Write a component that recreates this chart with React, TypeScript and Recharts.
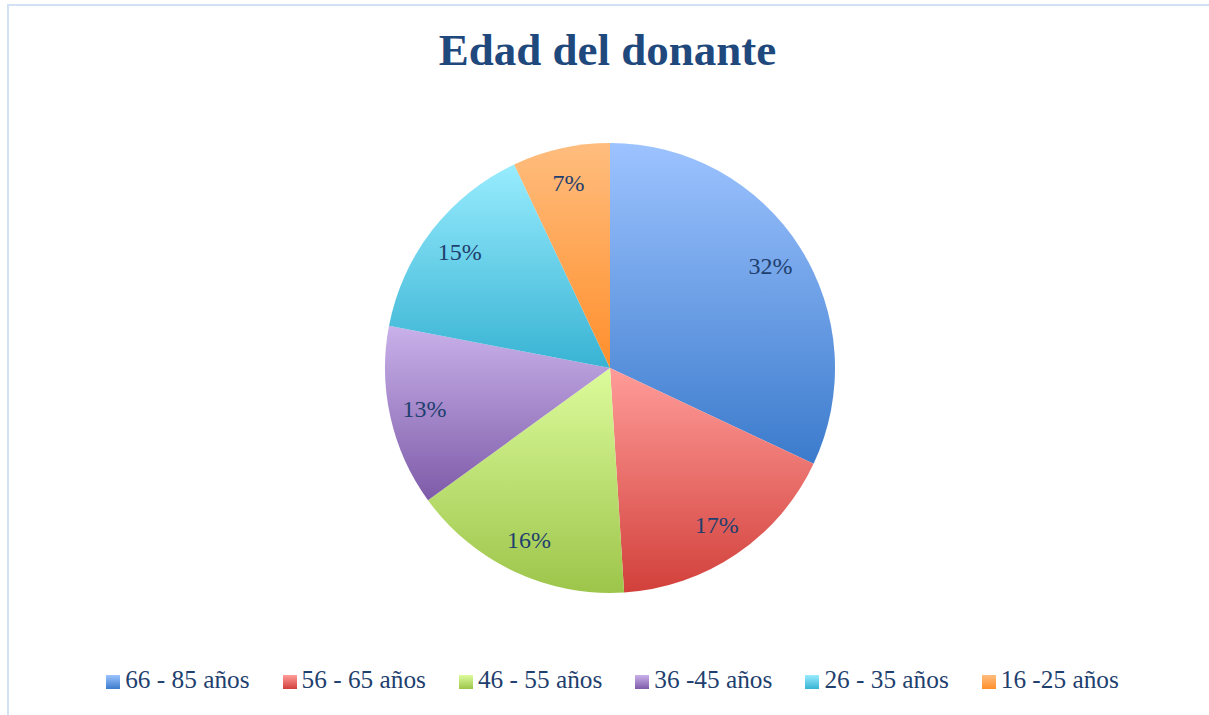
import React from "react";
import { PieChart, Pie, Cell, Legend } from "recharts";

const categories = ["66 - 85 años", "56 - 65 años", "46 - 55 años", "36 -45 años", "26 - 35 años", "16 -25 años"];
const values = [32, 17, 16, 13, 15, 7];
const labels = ["32%", "17%", "16%", "13%", "15%", "7%"];
const gradTop = ["#9dc3ff", "#ff9c99", "#dcfb9c", "#c9b1ea", "#98ecfe", "#ffbd7e"];
const gradBottom = ["#3b7bcc", "#d2403b", "#9dc54a", "#7e5ba8", "#38b3d3", "#ff8f2c"];

const data = categories.map((name, i) => ({ name, value: values[i], label: labels[i] }));

const RADIAN = Math.PI / 180;
const FONT = "'Liberation Serif', 'DejaVu Serif', serif";
const NAVY = "#1f3f6e";

const renderLabel = (props: any) => {
  const { cx, cy, midAngle, index } = props;
  const r = 190;
  const x = cx + r * Math.cos(-midAngle * RADIAN);
  const y = cy + r * Math.sin(-midAngle * RADIAN);
  return (
    <text x={x} y={y} fill={NAVY} fontFamily={FONT} fontSize={24} textAnchor="middle" dominantBaseline="central">
      {labels[index]}
    </text>
  );
};

const renderLegend = () => (
  <div style={{ display: "flex", justifyContent: "center", gap: 33, fontFamily: FONT, fontSize: 25.3, lineHeight: "25px", color: NAVY }}>
    {categories.map((c, i) => (
      <div key={c} style={{ display: "flex", alignItems: "center" }}>
        <span
          style={{
            display: "inline-block",
            width: 14,
            height: 14,
            marginRight: 5,
            marginTop: 4,
            background: `linear-gradient(${gradTop[i]}, ${gradBottom[i]})`,
          }}
        />
        <span>{c}</span>
      </div>
    ))}
  </div>
);

export default function App() {
  return (
    <div style={{ position: "absolute", left: 0, top: 0, width: 1209, height: 715, overflow: "hidden", background: "#fff" }}>
      <div style={{ position: "absolute", left: 7, top: 4, width: 1230, height: 760, border: "2px solid #d2e1f3", boxSizing: "border-box" }} />
      <div
        style={{
          position: "absolute",
          left: 3,
          width: 1209,
          top: 28,
          textAlign: "center",
          fontFamily: FONT,
          fontWeight: "bold",
          fontSize: 45,
          lineHeight: "45px",
          color: "#1f497d",
        }}
      >
        Edad del donante
      </div>
      <div style={{ position: "absolute", left: 0, top: 0 }}>
        <PieChart width={1209} height={715} margin={{ top: 0, right: 0, bottom: 0, left: 0 }}>
          <defs>
            {gradTop.map((t, i) => (
              <linearGradient key={i} id={`g${i}`} x1="0" y1="0" x2="0" y2="1">
                <stop offset="0%" stopColor={t} />
                <stop offset="100%" stopColor={gradBottom[i]} />
              </linearGradient>
            ))}
          </defs>
          <Pie
            data={data}
            dataKey="value"
            nameKey="name"
            cx={610}
            cy={368}
            outerRadius={225}
            startAngle={90}
            endAngle={-270}
            stroke="none"
            label={renderLabel}
            labelLine={false}
            isAnimationActive={false}
          >
            {data.map((d, i) => (
              <Cell key={d.name} fill={`url(#g${i})`} />
            ))}
          </Pie>
          <Legend content={renderLegend} wrapperStyle={{ position: "absolute", top: 667, left: 0, width: 1225 }} />
        </PieChart>
      </div>
    </div>
  );
}
